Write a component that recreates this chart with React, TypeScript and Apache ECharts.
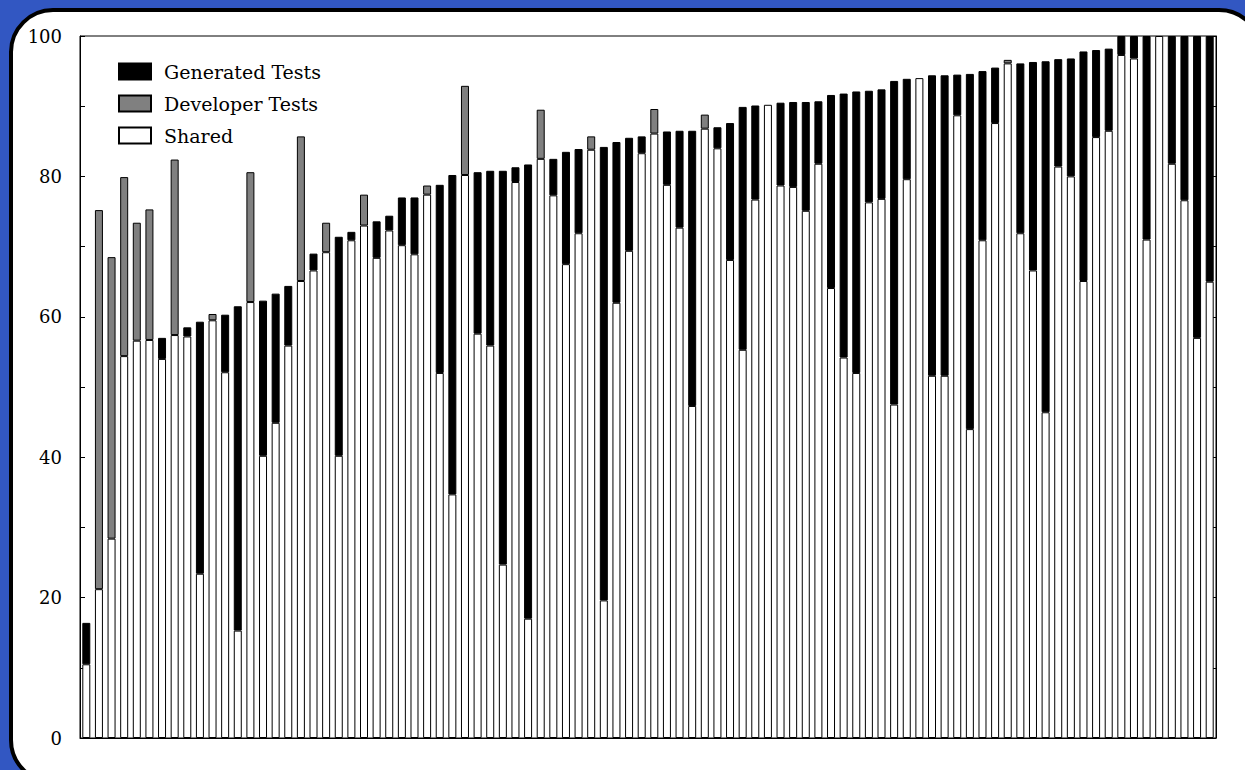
import React, { useEffect, useRef } from "react";
import * as echarts from "echarts";

// Per-project share of tests (percent)
const shared: number[] = [
  10.5, 21.2, 28.4, 54.4, 56.6, 56.7, 54.0, 57.4, 57.2, 23.4,
  59.5, 52.1, 15.3, 62.1, 40.2, 44.9, 55.9, 65.1, 66.6, 69.2,
  40.2, 70.9, 73.0, 68.4, 72.3, 70.2, 68.9, 77.4, 52.0, 34.7,
  80.2, 57.6, 55.9, 24.7, 79.2, 17.0, 82.5, 77.3, 67.5, 71.9,
  83.8, 19.6, 62.0, 69.4, 83.3, 86.1, 78.8, 72.7, 47.3, 86.8,
  84.0, 68.1, 55.3, 76.7, 90.2, 78.7, 78.5, 75.1, 81.8, 64.1,
  54.2, 52.0, 76.3, 76.8, 47.5, 79.6, 94.0, 51.6, 51.6, 88.7,
  44.0, 70.9, 87.6, 96.1, 71.9, 66.6, 46.4, 81.4, 80.0, 65.1,
  85.6, 86.5, 97.3, 96.8, 71.0, 100, 81.8, 76.6, 57.0, 65.0,
];

const developer: number[] = [
  0, 54.0, 40.1, 25.5, 16.8, 18.6, 0, 25.0, 0, 0,
  0.9, 0, 0, 18.5, 0, 0, 0, 20.6, 0, 4.2,
  0, 0, 4.4, 0, 0, 0, 0, 1.3, 0, 0,
  12.7, 0, 0, 0, 0, 0, 7.0, 0, 0, 0,
  1.9, 0, 0, 0, 0, 3.5, 0, 0, 0, 2.0,
  0, 0, 0, 0, 0, 0, 0, 0, 0, 0,
  0, 0, 0, 0, 0, 0, 0, 0, 0, 0,
  0, 0, 0, 0.5, 0, 0, 0, 0, 0, 0,
  0, 0, 0, 0, 0, 0, 0, 0, 0, 0,
];

const generated: number[] = [
  5.9, 0, 0, 0, 0, 0, 3.0, 0, 1.3, 35.9,
  0, 8.2, 46.2, 0, 22.1, 18.4, 8.5, 0, 2.4, 0,
  31.2, 1.2, 0, 5.2, 2.1, 6.8, 8.1, 0, 26.8, 45.5,
  0, 23.0, 24.9, 56.1, 2.1, 64.7, 0, 5.2, 16.0, 12.0,
  0, 64.6, 22.9, 16.1, 2.4, 0, 7.6, 13.8, 39.2, 0,
  3.0, 19.5, 34.6, 13.4, 0, 11.8, 12.1, 15.5, 8.9, 27.5,
  37.6, 40.1, 15.9, 15.6, 46.1, 14.3, 0, 42.8, 42.8, 5.8,
  50.6, 24.1, 7.9, 0, 24.2, 29.7, 50.0, 15.3, 16.8, 32.7,
  12.4, 11.7, 2.7, 3.2, 29.0, 0, 18.2, 23.4, 43.0, 35.0,
];

const categories: string[] = shared.map((_, i) => String(i + 1));
const legendNames: string[] = ["Generated Tests", "Developer Tests", "Shared"];
const yTicks: number[] = [0, 20, 40, 60, 80, 100];

const FONT = "DejaVu Serif";

export default function App() {
  const ref = useRef<HTMLDivElement>(null);

  useEffect(() => {
    document.body.style.margin = "0";
    const chart = echarts.init(ref.current!, null, { renderer: "svg" });
    const nz = (a: number[]) => a.map((v) => (v === 0 ? null : v));
    const barCommon = {
      type: "bar",
      stack: "total",
      barWidth: 8,
      yAxisIndex: 0,
    };
    chart.setOption({
      animation: false,
      backgroundColor: "#3257C2",
      graphic: [
        {
          type: "rect",
          z: -10,
          shape: { x: 11, y: 10, width: 1250, height: 772, r: 42 },
          style: { fill: "#ffffff", stroke: "#000000", lineWidth: 4 },
        },
      ],
      grid: {
        left: 80,
        right: 29,
        top: 36,
        bottom: 32,
        show: true,
        borderColor: "#000",
        borderWidth: 1,
        backgroundColor: "transparent",
      },
      legend: {
        orient: "vertical",
        left: 118,
        top: 62,
        padding: 0,
        itemWidth: 32,
        itemHeight: 16,
        itemGap: 13,
        icon: "rect",
        data: legendNames,
        textStyle: {
          fontFamily: FONT,
          fontSize: 19,
          color: "#000",
          padding: [0, 0, 0, 8],
        },
      },
      xAxis: {
        type: "category",
        data: categories,
        axisLine: { lineStyle: { color: "#000", width: 1 } },
        axisTick: { show: false },
        axisLabel: { show: false },
        splitLine: { show: false },
      },
      yAxis: [
        {
          type: "value",
          min: 0,
          max: 100,
          interval: 10,
          axisLine: { show: true, lineStyle: { color: "#000" } },
          axisTick: { show: true, inside: true, length: 5, lineStyle: { color: "#000" } },
          axisLabel: {
            margin: 18,
            fontFamily: FONT,
            fontSize: 18,
            color: "#000",
            formatter: (v: number) => (yTicks.includes(v) ? String(v) : ""),
          },
          splitLine: { show: false },
        },
        {
          type: "value",
          position: "right",
          min: 0,
          max: 100,
          interval: 10,
          axisLine: { show: true, lineStyle: { color: "#000" } },
          axisTick: { show: true, inside: true, length: 5, lineStyle: { color: "#000" } },
          axisLabel: { show: false },
          splitLine: { show: false },
        },
      ],
      series: [
        {
          ...barCommon,
          name: "Shared",
          data: shared,
          itemStyle: { color: "#ffffff", borderColor: "#000", borderWidth: 1 },
        },
        {
          ...barCommon,
          name: "Developer Tests",
          data: nz(developer),
          itemStyle: { color: "#808080", borderColor: "#000", borderWidth: 1 },
        },
        {
          ...barCommon,
          name: "Generated Tests",
          data: nz(generated),
          itemStyle: { color: "#000000", borderColor: "#000", borderWidth: 1 },
        },
      ],
    });
    return () => chart.dispose();
  }, []);

  return <div ref={ref} style={{ width: 1245, height: 770 }} />;
}
